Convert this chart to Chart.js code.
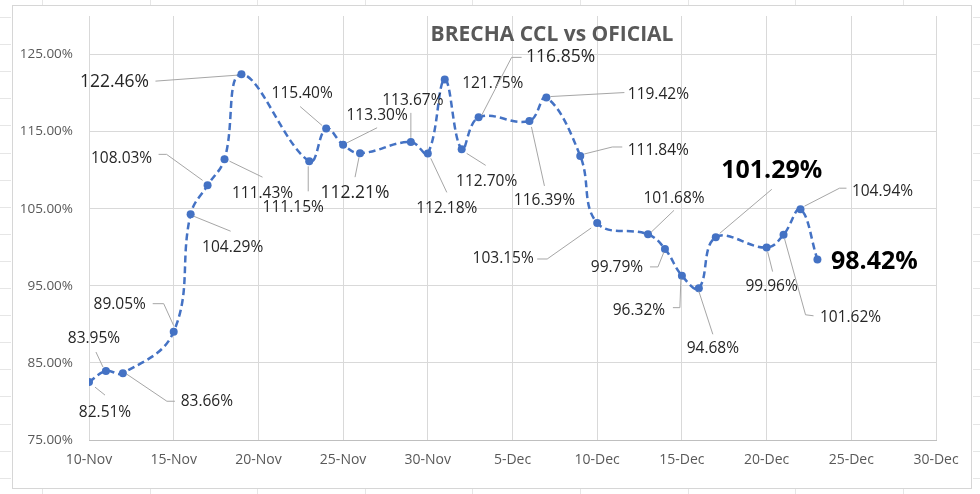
<!DOCTYPE html>
<html>
<head>
<meta charset="utf-8">
<script src="https://cdn.jsdelivr.net/npm/chart.js@4.4.0/dist/chart.umd.min.js"></script>
<style>
  html, body { margin: 0; padding: 0; background: #fff; }
</style>
</head>
<body>
<canvas id="chart" width="980" height="494"></canvas>
<script>
// data
const dates = [
  '2022-11-10', '2022-11-11', '2022-11-12', '2022-11-15', '2022-11-16', '2022-11-17',
  '2022-11-18', '2022-11-19', '2022-11-23', '2022-11-24', '2022-11-25', '2022-11-26',
  '2022-11-29', '2022-11-30', '2022-12-01', '2022-12-02', '2022-12-03', '2022-12-06',
  '2022-12-07', '2022-12-09', '2022-12-10', '2022-12-13', '2022-12-14', '2022-12-15',
  '2022-12-16', '2022-12-17', '2022-12-20', '2022-12-21', '2022-12-22', '2022-12-23'
];
const brecha = [
  82.51, 83.95, 83.66, 89.05, 104.29, 108.03,
  111.43, 122.46, 111.15, 115.40, 113.30, 112.21,
  113.67, 112.18, 121.75, 112.70, 116.85, 116.39,
  119.42, 111.84, 103.15, 101.68, 99.79, 96.32,
  94.68, 101.29, 99.96, 101.62, 104.94, 98.42
];
const yTicks = [75, 85, 95, 105, 115, 125];
const months = ['Jan','Feb','Mar','Apr','May','Jun','Jul','Aug','Sep','Oct','Nov','Dec'];
const startDate = Date.UTC(2022, 10, 10);
const DAY = 86400000;

// label placement relative to each point: text centre offset, leader polyline, style
const labelSpots = [
  { dx: 16, dy: 30, line: [[6,5],[16,13]], k: 'n' },
  { dx: -12, dy: -32, line: [[-10,-19],[-3,-4]], k: 'n' },
  { dx: 84, dy: 28, line: [[4,1],[44,28],[52,28]], k: 'n' },
  { dx: -54, dy: -27, line: [[-21,-28],[-10,-28],[0,-6]], k: 'n' },
  { dx: 42, dy: 33, line: [[3,2],[40,17]], k: 'n' },
  { dx: -86, dy: -27, line: [[-49,-31],[-41,-31],[-5,-5]], k: 'n' },
  { dx: 38, dy: 34, line: [[5,2],[38,18]], k: 'n' },
  { dx: -127, dy: 8, line: [[-86,7],[-4,1]], k: 'm' },
  { dx: -16, dy: 46, line: [[-1,5],[-1,30]], k: 'n' },
  { dx: -24, dy: -35, line: [[-26,-22],[-4,-3]], k: 'n' },
  { dx: 34, dy: -29, line: [[4,-2],[34,-17]], k: 'n' },
  { dx: -5, dy: 40, line: [[-1,4],[-5,24]], k: 'm' },
  { dx: 2, dy: -41, line: [[0,-4],[0,-29]], k: 'n' },
  { dx: 19, dy: 55, line: [[3,5],[19,39]], k: 'n' },
  { dx: 48, dy: 4, line: null, k: 'n' },
  { dx: 25, dy: 32, line: [[5,4],[24,16]], k: 'n' },
  { dx: 82, dy: -60, line: [[3,-2],[33,-60],[43,-60]], k: 'm' },
  { dx: 15, dy: 80, line: [[2,6],[15,65]], k: 'n' },
  { dx: 112, dy: -3, line: [[4,-1],[78,-5]], k: 'n' },
  { dx: 78, dy: -5, line: [[4,-2],[32,-9],[42,-9]], k: 'n' },
  { dx: -94, dy: 36, line: [[-6,5],[-50,36],[-60,36]], k: 'n' },
  { dx: 26, dy: -36, line: [[3,-2],[26,-24]], k: 'n' },
  { dx: -48, dy: 19, line: [[-1,3],[-7,18],[-15,18]], k: 'n' },
  { dx: -43, dy: 35, line: [[-1,3],[-2,32],[-9,32]], k: 'n' },
  { dx: 14, dy: 60, line: [[0,3],[14,46]], k: 'n' },
  { dx: 56, dy: -66, line: [[4,-4],[56,-48]], k: 'b' },
  { dx: 5, dy: 39, line: [[1,4],[6,24]], k: 'n' },
  { dx: 67, dy: 83, line: [[1,4],[22,80],[30,81]], k: 'n' },
  { dx: 82, dy: -18, line: [[4,-3],[39,-21],[46,-21]], k: 'n' },
  { dx: 57, dy: 2, line: null, k: 'b' }
];
const labelFonts = {
  n: '15.5px "Open Sans"',
  m: '17.5px "Open Sans"',
  b: 'bold 25px "Open Sans"'
};

const points = dates.map((d, i) => ({ x: (Date.parse(d) - startDate) / DAY, y: brecha[i] }));

function dayLabel(v) {
  const d = new Date(startDate + v * DAY);
  return d.getUTCDate() + '-' + months[d.getUTCMonth()];
}

// spreadsheet frame behind the chart
const sheetPlugin = {
  id: 'sheet',
  beforeDraw(chart) {
    const ctx = chart.ctx;
    ctx.save();
    ctx.fillStyle = '#fff';
    ctx.fillRect(0, 0, chart.width, chart.height);
    ctx.strokeStyle = '#e6e6e6';
    ctx.lineWidth = 1;
    for (let x = 42; x < 980; x += 107.6) {
      ctx.beginPath();
      ctx.moveTo(Math.round(x) + 0.5, 0); ctx.lineTo(Math.round(x) + 0.5, 5);
      ctx.moveTo(Math.round(x) + 0.5, 489); ctx.lineTo(Math.round(x) + 0.5, 494);
      ctx.stroke();
    }
    for (let y = 17; y < 494; y += 27.1) {
      ctx.beginPath();
      ctx.moveTo(0, Math.round(y) + 0.5); ctx.lineTo(11, Math.round(y) + 0.5);
      ctx.moveTo(973, Math.round(y) + 0.5); ctx.lineTo(980, Math.round(y) + 0.5);
      ctx.stroke();
    }
    ctx.strokeStyle = '#d6d6d6';
    ctx.strokeRect(12.5, 5.5, 959, 483);
    ctx.restore();
  }
};

// title + data labels with leader lines
const labelPlugin = {
  id: 'labels',
  afterDatasetsDraw(chart) {
    const ctx = chart.ctx;
    const meta = chart.getDatasetMeta(0);
    ctx.save();
    ctx.font = 'bold 21px "Open Sans"';
    ctx.fillStyle = '#595959';
    ctx.textAlign = 'center';
    ctx.textBaseline = 'middle';
    ctx.fillText('BRECHA CCL vs OFICIAL', 552, 35);

    meta.data.forEach((pt, i) => {
      const s = labelSpots[i];
      if (s.line) {
        ctx.strokeStyle = '#a6a6a6';
        ctx.lineWidth = 1;
        ctx.beginPath();
        s.line.forEach(([lx, ly], j) => {
          if (j === 0) ctx.moveTo(pt.x + lx, pt.y + ly);
          else ctx.lineTo(pt.x + lx, pt.y + ly);
        });
        ctx.stroke();
      }
      ctx.font = labelFonts[s.k];
      ctx.fillStyle = s.k === 'b' ? '#000' : '#262626';
      ctx.fillText(brecha[i].toFixed(2) + '%', pt.x + s.dx, pt.y + s.dy);
    });
    ctx.restore();
  }
};

new Chart(document.getElementById('chart'), {
  type: 'line',
  data: {
    datasets: [{
      data: points,
      borderColor: '#4472C4',
      backgroundColor: '#4472C4',
      borderWidth: 2.5,
      borderDash: [7, 4],
      tension: 0.4,
      pointRadius: 4,
      pointBorderWidth: 0,
      pointBackgroundColor: '#4472C4',
      fill: false
    }]
  },
  options: {
    responsive: false,
    animation: false,
    layout: { padding: { top: 16, right: 44, bottom: 0, left: 0 } },
    plugins: {
      legend: { display: false },
      tooltip: { enabled: false },
      title: { display: false }
    },
    scales: {
      x: {
        type: 'linear',
        min: 0,
        max: 50,
        afterFit: (scale) => { scale.height = 54; },
        ticks: {
          stepSize: 5,
          padding: 12,
          maxRotation: 0,
          color: '#595959',
          font: { family: 'Open Sans', size: 14 },
          callback: (v) => dayLabel(v)
        },
        grid: { color: '#d9d9d9', drawTicks: false },
        border: { color: '#bfbfbf' }
      },
      y: {
        min: 75,
        max: 130,
        afterFit: (scale) => {
          scale.width = 89;
          scale.paddingTop = 0;
          scale.paddingBottom = 0;
        },
        afterBuildTicks: (scale) => { scale.ticks = yTicks.map(v => ({ value: v })); },
        ticks: {
          padding: 16,
          color: '#595959',
          font: { family: 'Open Sans', size: 13.5 },
          callback: (v) => v.toFixed(2) + '%'
        },
        grid: { color: '#d9d9d9', drawTicks: false },
        border: { display: false }
      }
    }
  },
  plugins: [sheetPlugin, labelPlugin]
});
</script>
</body>
</html>
